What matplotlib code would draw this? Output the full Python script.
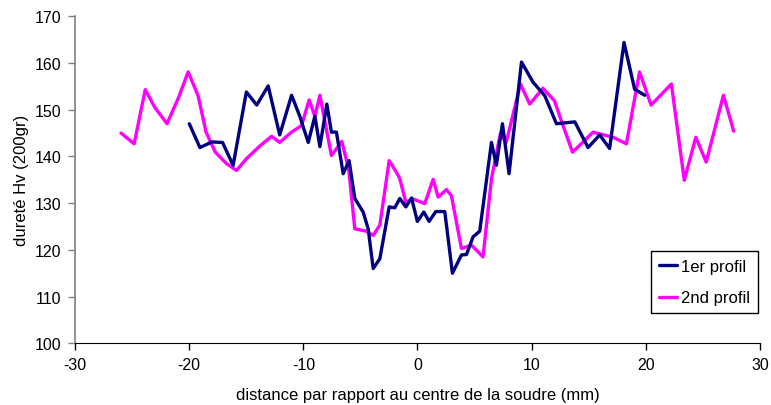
import matplotlib as mpl
mpl.use("Agg")
import matplotlib.pyplot as plt

mpl.rcParams.update({
    "font.family": ["Liberation Sans", "DejaVu Sans"],
    "font.size": 12,
    "axes.unicode_minus": False,
})

# 1er profil (navy)
x_p1 = [-19.99, -19.06, -18.01, -17.08, -16.15, -14.99, -14.08, -13.08, -12.07, -11.03,
        -10.31, -9.57, -8.99, -8.55, -7.94, -7.54, -7.10, -6.51, -5.99, -5.49,
        -4.76, -4.32, -3.88, -3.30, -2.48, -1.99, -1.55, -1.02, -0.52, -0.01,
        0.55, 1.02, 1.60, 2.39, 3.06, 3.85, 4.29, 4.87, 5.45, 6.48,
        6.91, 7.44, 8.02, 9.11, 10.12, 11.15, 12.17, 13.78, 14.94, 15.96,
        16.83, 18.09, 19.02, 19.90]
y_p1 = [147.0, 141.9, 143.1, 143.0, 138.1, 153.8, 151.0, 155.1, 144.6, 153.1,
        148.6, 143.0, 148.6, 142.1, 151.2, 145.2, 145.2, 136.3, 139.1, 131.0,
        128.1, 124.5, 116.0, 118.1, 129.2, 129.0, 131.0, 129.2, 131.1, 126.1,
        128.1, 126.1, 128.2, 128.2, 115.0, 118.9, 119.0, 122.8, 124.0, 143.0,
        138.1, 147.0, 136.3, 160.2, 155.9, 153.0, 147.0, 147.4, 141.9, 144.6,
        141.7, 164.4, 154.4, 153.1]

# 2nd profil (magenta)
x_p2 = [-25.97, -24.82, -23.85, -23.01, -21.94, -20.93, -20.09, -19.22, -18.52, -17.71,
        -16.70, -15.85, -14.99, -13.78, -12.78, -12.07, -11.03, -10.16, -9.49, -8.99,
        -8.55, -7.54, -6.63, -6.03, -5.49, -4.47, -3.88, -3.30, -2.48, -1.84,
        -1.55, -1.02, -0.39, 0.64, 1.37, 1.81, 2.54, 2.97, 3.85, 4.73,
        5.74, 6.48, 7.25, 7.77, 9.02, 9.83, 10.99, 12.00, 12.75, 13.58,
        15.38, 17.13, 18.30, 19.45, 20.46, 22.24, 23.37, 24.38, 25.29, 26.80,
        27.70]
y_p2 = [145.0, 142.7, 154.3, 150.5, 147.0, 152.6, 158.1, 153.0, 145.2, 140.9,
        138.4, 137.0, 139.5, 142.3, 144.3, 143.0, 145.2, 146.6, 152.1, 148.6,
        153.1, 140.2, 143.2, 137.3, 124.5, 124.0, 123.1, 125.3, 139.1, 136.6,
        135.2, 130.2, 130.9, 129.9, 135.1, 131.3, 132.9, 131.6, 120.3, 121.0,
        118.5, 135.2, 144.8, 143.0, 155.5, 151.2, 154.6, 151.9, 146.6, 140.9,
        145.2, 144.1, 142.7, 158.1, 151.0, 155.5, 134.9, 144.1, 138.8, 153.1,
        145.4]

fig = plt.figure(figsize=(7.71, 4.06), dpi=100)
ax = fig.add_axes([0.0973, 0.152, 0.8884, 0.8054])

ax.plot(x_p1, y_p1, color="#000080", lw=2.4, solid_joinstyle="round",
        solid_capstyle="round", label="1er profil", zorder=3)
ax.plot(x_p2, y_p2, color="#FF00FF", lw=2.4, solid_joinstyle="round",
        solid_capstyle="round", label="2nd profil", zorder=2)

ax.set_xlim(-30, 30)
ax.set_ylim(100, 170)
ax.set_xticks(range(-30, 31, 10))
ax.set_yticks(range(100, 171, 10))
ax.tick_params(direction="out", length=5, width=1, labelsize=11.5, pad=5)

for s in ("top", "right"):
    ax.spines[s].set_visible(False)
ax.spines["left"].set_color("#808080")
ax.spines["left"].set_linewidth(1.2)
ax.spines["bottom"].set_color("black")
ax.tick_params(axis="y", colors="#808080", labelcolor="black")

ax.set_xlabel("distance par rapport au centre de la soudre (mm)", fontsize=12, labelpad=11)
ax.set_ylabel("dureté Hv (200gr)", fontsize=12, labelpad=4)

leg = ax.legend(loc="lower left", bbox_to_anchor=(651 / 771, 1 - 314 / 406, 0.1, 0.1),
                bbox_transform=fig.transFigure, frameon=True, fancybox=False,
                edgecolor="black", framealpha=1, borderpad=0.45, handlelength=1.1,
                handletextpad=0.25, labelspacing=1.0, borderaxespad=0, fontsize=12)
leg.get_frame().set_linewidth(1.0)

fig.savefig("out.png", dpi=100)
